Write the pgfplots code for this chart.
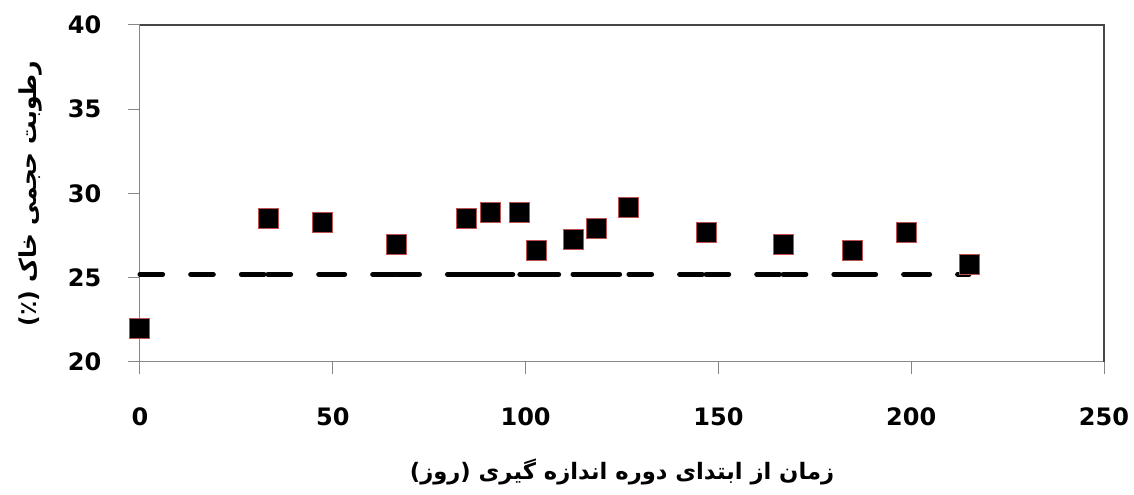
\documentclass[border=0pt]{standalone}
\usepackage{pgfplots}
\pgfplotsset{compat=1.18}
\usepackage{fontspec}
\setmainfont{DejaVu Sans}
\newfontfamily\arabicfont[Script=Arabic]{DejaVu Sans}
\TeXXeTstate=1
\definecolor{mkedge}{RGB}{192,80,77}
\definecolor{axgray}{RGB}{134,134,134}
\definecolor{boxgray}{RGB}{70,70,70}
\begin{document}
\begin{tikzpicture}
\begin{axis}[
  at={(0,0)}, anchor=south west,
  scale only axis,
  width=723pt, height=252.75pt,
  xmin=0, xmax=250, ymin=20, ymax=40,
  xtick={0,50,100,150,200,250},
  ytick={20,25,30,35,40},
  xtick pos=bottom, ytick pos=left,
  tick align=outside,
  major tick length=9pt,
  axis line style={axgray, line width=0.75pt},
  every tick/.style={axgray, line width=0.75pt},
  /pgf/number format/assume math mode=true,
  ticklabel style={font=\fontsize{18}{22}\selectfont\bfseries},
  xticklabel style={yshift=-22pt},
  yticklabel={\pgfmathprintnumber{\tick}\hspace*{16.5pt}},
  xlabel={\arabicfont\bfseries\beginR زمان از ابتدای دوره اندازه گیری (روز)\endR},
  ylabel={\arabicfont\bfseries\beginR رطوبت حجمی خاک (٪)\endR},
  xlabel style={at={(axis description cs:0.5,-0.3264)}, anchor=center, font=\fontsize{17}{20}\selectfont},
  ylabel style={at={(axis description cs:-0.1141,0.5)}, anchor=center, font=\fontsize{17.5}{20}\selectfont},
  unbounded coords=jump,
  clip=false,
]
% dashed reference line, each segment restarts its dash pattern
\addplot[black, line width=3.75pt, line cap=round, dash pattern=on 17pt off 21pt, mark=none]
coordinates {
(0,25.2) (33.2,25.2) (nan,nan)
(33.2,25.2) (47.2,25.2) (nan,nan)
(47.2,25.2) (66.6,25.2) (nan,nan)
(66.6,25.2) (84.8,25.2) (nan,nan)
(84.8,25.2) (90.8,25.2) (nan,nan)
(90.8,25.2) (98.5,25.2) (nan,nan)
(98.5,25.2) (102.7,25.2) (nan,nan)
(102.7,25.2) (112.3,25.2) (nan,nan)
(112.3,25.2) (118.5,25.2) (nan,nan)
(118.5,25.2) (126.8,25.2) (nan,nan)
(126.8,25.2) (146.8,25.2) (nan,nan)
(146.8,25.2) (166.8,25.2) (nan,nan)
(166.8,25.2) (184.9,25.2) (nan,nan)
(184.9,25.2) (198.9,25.2) (nan,nan)
(198.9,25.2) (215.0,25.2)
};
% measured soil moisture
\addplot[only marks, mark=square*, mark size=7.5pt,
  mark options={fill=black, draw=mkedge, line width=0.75pt, solid}]
coordinates {
(0,22.0) (33.2,28.5) (47.2,28.25) (66.6,27.0) (84.8,28.5) (90.8,28.85)
(98.5,28.9) (102.7,26.6) (112.3,27.25) (118.5,27.95) (126.8,29.15)
(146.8,27.7) (166.8,27.0) (184.9,26.6) (198.9,27.7) (215.0,25.8)
};
\draw[boxgray, line width=1.3pt] (rel axis cs:0,1) -- (rel axis cs:1,1) -- (rel axis cs:1,0);
\end{axis}
\path (-105pt,-99.75pt) rectangle (745.5pt,271.5pt);
\end{tikzpicture}
\end{document}
